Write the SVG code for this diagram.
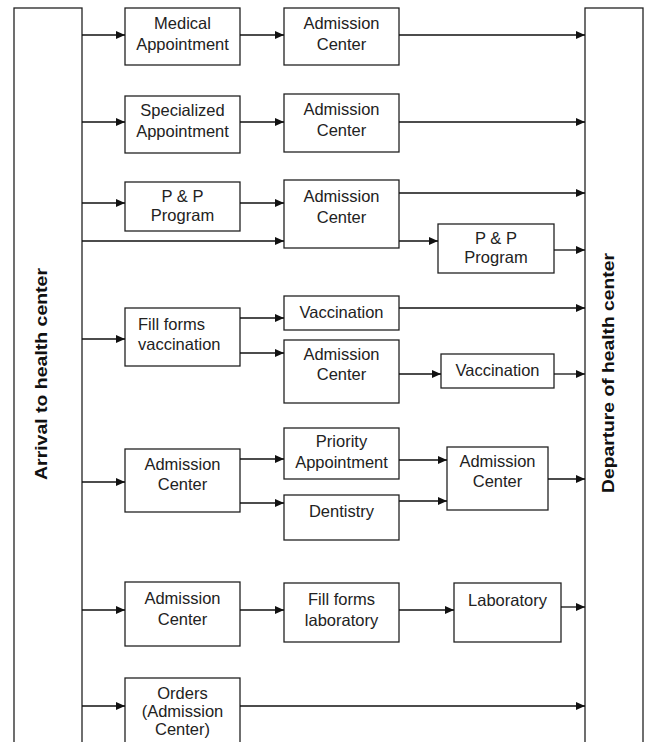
<svg xmlns="http://www.w3.org/2000/svg" width="645" height="742" viewBox="0 0 645 742">
<defs>
<style>
.bx{fill:#fff;stroke:#222;stroke-width:1.3}
.t{font-family:"Liberation Sans",Arial,sans-serif;font-size:16.5px;fill:#222;text-anchor:middle}
.vt{font-family:"Liberation Sans",Arial,sans-serif;font-size:17px;font-weight:bold;fill:#111;text-anchor:middle}
.c{fill:none;stroke:#111;stroke-width:1.3}
</style>
<marker id="ah" markerUnits="userSpaceOnUse" markerWidth="10" markerHeight="10" refX="9" refY="4.5" orient="auto">
<path d="M0,0.5 L9,4.5 L0,8.5 Z" fill="#111"/>
</marker>
</defs>
<rect width="645" height="742" fill="#fff"/>

<g id="arrival">
<rect class="bx" x="14" y="8" width="68" height="740"/>
<text class="vt" transform="translate(47,374) rotate(-90)" textLength="212" lengthAdjust="spacingAndGlyphs">Arrival to health center</text>
</g>
<g id="departure">
<rect class="bx" x="585" y="8" width="58" height="740"/>
<text class="vt" transform="translate(614,373) rotate(-90)" textLength="240" lengthAdjust="spacingAndGlyphs">Departure of health center</text>
</g>

<g id="medical">
<rect class="bx" x="125" y="8" width="115" height="57"/>
<text class="t" x="182.5" y="29">Medical</text>
<text class="t" x="182.5" y="50">Appointment</text>
</g>
<g id="adm1">
<rect class="bx" x="284" y="8" width="115" height="57"/>
<text class="t" x="341.5" y="29">Admission</text>
<text class="t" x="341.5" y="50">Center</text>
</g>

<g id="specialized">
<rect class="bx" x="125" y="96" width="115" height="57"/>
<text class="t" x="182.5" y="116">Specialized</text>
<text class="t" x="182.5" y="137">Appointment</text>
</g>
<g id="adm2">
<rect class="bx" x="284" y="94" width="115" height="58"/>
<text class="t" x="341.5" y="115">Admission</text>
<text class="t" x="341.5" y="136">Center</text>
</g>

<g id="pp1">
<rect class="bx" x="125" y="182" width="115" height="49"/>
<text class="t" x="182.5" y="202">P &amp; P</text>
<text class="t" x="182.5" y="221">Program</text>
</g>
<g id="adm3">
<rect class="bx" x="284" y="180" width="115" height="68"/>
<text class="t" x="341.5" y="202">Admission</text>
<text class="t" x="341.5" y="223">Center</text>
</g>
<g id="pp2">
<rect class="bx" x="438" y="224" width="116" height="49"/>
<text class="t" x="496" y="244">P &amp; P</text>
<text class="t" x="496" y="263">Program</text>
</g>

<g id="fillvacc">
<rect class="bx" x="125" y="308" width="115" height="58"/>
<text class="t" x="138" y="330" style="text-anchor:start">Fill forms</text>
<text class="t" x="138" y="350" style="text-anchor:start">vaccination</text>
</g>
<g id="vacc1">
<rect class="bx" x="284" y="296" width="115" height="34"/>
<text class="t" x="341.5" y="318">Vaccination</text>
</g>
<g id="adm4">
<rect class="bx" x="284" y="340" width="115" height="63"/>
<text class="t" x="341.5" y="360">Admission</text>
<text class="t" x="341.5" y="380">Center</text>
</g>
<g id="vacc2">
<rect class="bx" x="441" y="354" width="113" height="34"/>
<text class="t" x="497.5" y="376">Vaccination</text>
</g>

<g id="adm5">
<rect class="bx" x="125" y="449" width="115" height="63"/>
<text class="t" x="182.5" y="470">Admission</text>
<text class="t" x="182.5" y="490">Center</text>
</g>
<g id="priority">
<rect class="bx" x="284" y="428" width="115" height="51"/>
<text class="t" x="341.5" y="447">Priority</text>
<text class="t" x="341.5" y="468">Appointment</text>
</g>
<g id="dentistry">
<rect class="bx" x="284" y="495" width="115" height="45"/>
<text class="t" x="341.5" y="517">Dentistry</text>
</g>
<g id="adm6">
<rect class="bx" x="447" y="447" width="101" height="63"/>
<text class="t" x="497.5" y="467">Admission</text>
<text class="t" x="497.5" y="487">Center</text>
</g>

<g id="adm7">
<rect class="bx" x="125" y="582" width="115" height="64"/>
<text class="t" x="182.5" y="604">Admission</text>
<text class="t" x="182.5" y="625">Center</text>
</g>
<g id="filllab">
<rect class="bx" x="284" y="583" width="115" height="59"/>
<text class="t" x="341.5" y="605">Fill forms</text>
<text class="t" x="341.5" y="626">laboratory</text>
</g>
<g id="lab">
<rect class="bx" x="454" y="583" width="107" height="59"/>
<text class="t" x="507.5" y="606">Laboratory</text>
</g>

<g id="orders">
<rect class="bx" x="125" y="678" width="115" height="70"/>
<text class="t" x="182.5" y="699">Orders</text>
<text class="t" x="182.5" y="717">(Admission</text>
<text class="t" x="182.5" y="735">Center)</text>
</g>

<g id="connectors">
<path class="c" marker-end="url(#ah)" d="M82,35 H125"/>
<path class="c" marker-end="url(#ah)" d="M240,35 H284"/>
<path class="c" marker-end="url(#ah)" d="M399,35 H585"/>
<path class="c" marker-end="url(#ah)" d="M82,122 H125"/>
<path class="c" marker-end="url(#ah)" d="M240,122 H284"/>
<path class="c" marker-end="url(#ah)" d="M399,122 H585"/>
<path class="c" marker-end="url(#ah)" d="M82,203 H125"/>
<path class="c" marker-end="url(#ah)" d="M240,203 H284"/>
<path class="c" marker-end="url(#ah)" d="M82,241 H284"/>
<path class="c" marker-end="url(#ah)" d="M399,193 H585"/>
<path class="c" marker-end="url(#ah)" d="M399,241 H438"/>
<path class="c" marker-end="url(#ah)" d="M554,250 H585"/>
<path class="c" marker-end="url(#ah)" d="M82,339 H125"/>
<path class="c" marker-end="url(#ah)" d="M240,318 H284"/>
<path class="c" marker-end="url(#ah)" d="M240,353 H284"/>
<path class="c" marker-end="url(#ah)" d="M399,308 H585"/>
<path class="c" marker-end="url(#ah)" d="M399,374 H441"/>
<path class="c" marker-end="url(#ah)" d="M554,374 H585"/>
<path class="c" marker-end="url(#ah)" d="M82,482 H125"/>
<path class="c" marker-end="url(#ah)" d="M240,459 H284"/>
<path class="c" marker-end="url(#ah)" d="M240,503 H284"/>
<path class="c" marker-end="url(#ah)" d="M399,460 H447"/>
<path class="c" marker-end="url(#ah)" d="M399,501 H447"/>
<path class="c" marker-end="url(#ah)" d="M548,479 H585"/>
<path class="c" marker-end="url(#ah)" d="M82,610 H125"/>
<path class="c" marker-end="url(#ah)" d="M240,610 H284"/>
<path class="c" marker-end="url(#ah)" d="M399,610 H454"/>
<path class="c" marker-end="url(#ah)" d="M561,607 H585"/>
<path class="c" marker-end="url(#ah)" d="M82,706 H125"/>
<path class="c" marker-end="url(#ah)" d="M240,706 H585"/>
</g>
</svg>
